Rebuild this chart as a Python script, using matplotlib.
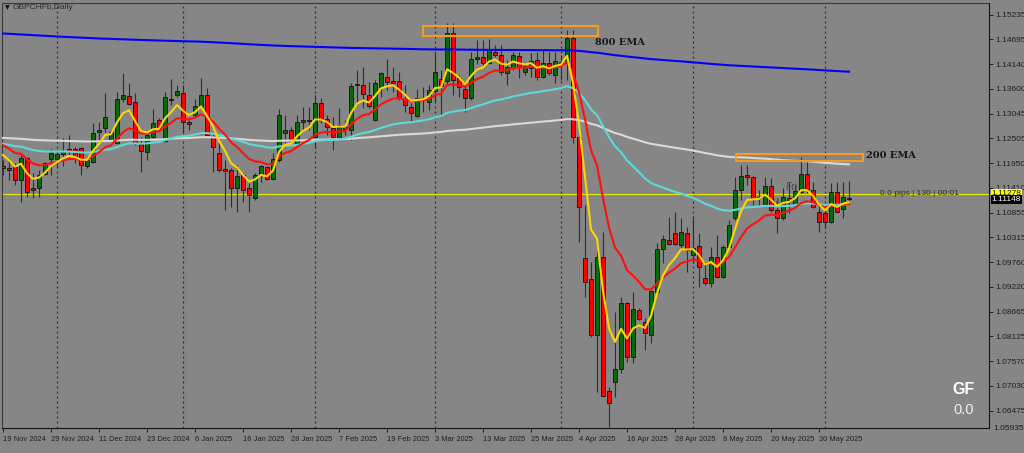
import numpy as np
import pandas as pd
import matplotlib
matplotlib.use("Agg")
import matplotlib.pyplot as plt
from matplotlib.patches import Rectangle
from matplotlib.transforms import blended_transform_factory

plt.rcParams["font.family"] = ["Liberation Sans", "DejaVu Sans"]

# GBPCHF daily candles, 19 Nov 2024 .. 6 Jun 2025
opens = [1.1189, 1.1184, 1.1187, 1.1158, 1.1207, 1.1140, 1.1140, 1.1171, 1.1204, 1.1204,
         1.1215, 1.1226, 1.1226, 1.1229, 1.1189, 1.1198, 1.1264, 1.1273, 1.1246, 1.1240,
         1.1337, 1.1344, 1.1330, 1.1238, 1.1220, 1.1253, 1.1291, 1.1244, 1.1337, 1.1346,
         1.1350, 1.1286, 1.1302, 1.1319, 1.1346, 1.1255, 1.1218, 1.1182, 1.1180, 1.1140,
         1.1169, 1.1140, 1.1118, 1.1171, 1.1187, 1.1160, 1.1202, 1.1262, 1.1268, 1.1240,
         1.1286, 1.1291, 1.1253, 1.1328, 1.1293, 1.1273, 1.1249, 1.1271, 1.1268, 1.1370,
         1.1368, 1.1346, 1.1291, 1.1363, 1.1386, 1.1377, 1.1377, 1.1337, 1.1319, 1.1299,
         1.1337, 1.1330, 1.1355, 1.1381, 1.1377, 1.1483, 1.1383, 1.1359, 1.1339, 1.1425,
         1.1430, 1.1417, 1.1441, 1.1434, 1.1395, 1.1408, 1.1432, 1.1397, 1.1406, 1.1423,
         1.1386, 1.1417, 1.1390, 1.1417, 1.1417, 1.1472, 1.1253, 1.0985, 1.0939, 1.0815,
         1.0988, 1.0691, 1.0711, 1.0740, 1.0886, 1.0766, 1.0870, 1.0844, 1.0815, 1.0910,
         1.1005, 1.1025, 1.1041, 1.1014, 1.1041, 1.0992, 1.1012, 1.0941, 1.0930, 1.0988,
         1.0943, 1.1010, 1.1074, 1.1136, 1.1169, 1.1164, 1.1120, 1.1105, 1.1145, 1.1092,
         1.1074, 1.1118, 1.1103, 1.1131, 1.1171, 1.1136, 1.1087, 1.1085, 1.1065, 1.1131,
         1.1094, 1.1118]
highs = [1.1202, 1.1207, 1.1196, 1.1213, 1.1209, 1.1173, 1.1180, 1.1198, 1.1226, 1.1224,
         1.1251, 1.1257, 1.1231, 1.1231, 1.1209, 1.1284, 1.1286, 1.1350, 1.1268, 1.1353,
         1.1395, 1.1372, 1.1350, 1.1253, 1.1259, 1.1315, 1.1295, 1.1353, 1.1381, 1.1368,
         1.1368, 1.1291, 1.1337, 1.1383, 1.1361, 1.1259, 1.1242, 1.1202, 1.1184, 1.1191,
         1.1173, 1.1151, 1.1173, 1.1191, 1.1189, 1.1218, 1.1315, 1.1302, 1.1275, 1.1302,
         1.1319, 1.1319, 1.1346, 1.1339, 1.1302, 1.1297, 1.1317, 1.1291, 1.1372, 1.1401,
         1.1408, 1.1374, 1.1379, 1.1397, 1.1425, 1.1408, 1.1397, 1.1368, 1.1328, 1.1359,
         1.1364, 1.1368, 1.1439, 1.1401, 1.1505, 1.1505, 1.1390, 1.1372, 1.1441, 1.1468,
         1.1468, 1.1470, 1.1456, 1.1456, 1.1423, 1.1441, 1.1441, 1.1419, 1.1439, 1.1441,
         1.1445, 1.1441, 1.1441, 1.1434, 1.1490, 1.1490, 1.1262, 1.1103, 1.0976, 1.1003,
         1.1043, 1.0700, 1.0866, 1.0899, 1.0888, 1.0910, 1.0875, 1.0853, 1.0915, 1.1019,
         1.1036, 1.1076, 1.1087, 1.1074, 1.1054, 1.1074, 1.1041, 1.0976, 1.1010, 1.1036,
         1.1014, 1.1069, 1.1164, 1.1191, 1.1191, 1.1167, 1.1136, 1.1164, 1.1162, 1.1114,
         1.1140, 1.1153, 1.1147, 1.1209, 1.1202, 1.1153, 1.1103, 1.1103, 1.1151, 1.1153,
         1.1153, 1.1156]
lows = [1.1169, 1.1158, 1.1147, 1.1109, 1.1120, 1.1118, 1.1120, 1.1169, 1.1169, 1.1187,
        1.1189, 1.1209, 1.1196, 1.1169, 1.1184, 1.1196, 1.1240, 1.1264, 1.1244, 1.1238,
        1.1330, 1.1324, 1.1235, 1.1176, 1.1202, 1.1251, 1.1271, 1.1242, 1.1324, 1.1341,
        1.1262, 1.1268, 1.1299, 1.1317, 1.1253, 1.1176, 1.1176, 1.1092, 1.1098, 1.1087,
        1.1109, 1.1087, 1.1114, 1.1153, 1.1158, 1.1158, 1.1198, 1.1231, 1.1240, 1.1235,
        1.1268, 1.1268, 1.1229, 1.1284, 1.1257, 1.1224, 1.1246, 1.1257, 1.1246, 1.1328,
        1.1317, 1.1317, 1.1288, 1.1341, 1.1357, 1.1353, 1.1335, 1.1308, 1.1286, 1.1297,
        1.1308, 1.1313, 1.1330, 1.1297, 1.1368, 1.1346, 1.1341, 1.1308, 1.1335, 1.1414,
        1.1408, 1.1414, 1.1430, 1.1390, 1.1368, 1.1401, 1.1383, 1.1390, 1.1386, 1.1379,
        1.1383, 1.1390, 1.1372, 1.1379, 1.1379, 1.1240, 1.1021, 1.0899, 1.0811, 1.0689,
        1.0678, 1.0612, 1.0678, 1.0731, 1.0755, 1.0753, 1.0848, 1.0782, 1.0797, 1.0908,
        1.0974, 1.1014, 1.1014, 1.1003, 1.0954, 1.0974, 1.0921, 1.0926, 1.0921, 1.0941,
        1.0941, 1.1007, 1.1069, 1.1114, 1.1147, 1.1103, 1.1103, 1.1103, 1.1087, 1.1041,
        1.1069, 1.1085, 1.1098, 1.1129, 1.1129, 1.1096, 1.1043, 1.1052, 1.1063, 1.1085,
        1.1074, 1.1103]
closes = [1.1184, 1.1180, 1.1158, 1.1207, 1.1131, 1.1136, 1.1169, 1.1196, 1.1218, 1.1215,
          1.1222, 1.1222, 1.1204, 1.1191, 1.1202, 1.1262, 1.1268, 1.1297, 1.1264, 1.1337,
          1.1346, 1.1326, 1.1240, 1.1222, 1.1257, 1.1284, 1.1273, 1.1341, 1.1335, 1.1355,
          1.1286, 1.1282, 1.1321, 1.1346, 1.1257, 1.1231, 1.1180, 1.1178, 1.1140, 1.1167,
          1.1136, 1.1125, 1.1169, 1.1189, 1.1160, 1.1204, 1.1302, 1.1268, 1.1244, 1.1286,
          1.1291, 1.1288, 1.1328, 1.1291, 1.1275, 1.1253, 1.1279, 1.1275, 1.1366, 1.1368,
          1.1348, 1.1321, 1.1372, 1.1395, 1.1374, 1.1372, 1.1339, 1.1324, 1.1306, 1.1339,
          1.1339, 1.1357, 1.1397, 1.1366, 1.1483, 1.1379, 1.1364, 1.1339, 1.1425, 1.1430,
          1.1417, 1.1445, 1.1434, 1.1397, 1.1408, 1.1434, 1.1408, 1.1410, 1.1421, 1.1386,
          1.1417, 1.1395, 1.1421, 1.1419, 1.1472, 1.1253, 1.1098, 1.0932, 1.0815, 1.0988,
          1.0680, 1.0665, 1.0740, 1.0886, 1.0766, 1.0873, 1.0850, 1.0819, 1.0912, 1.1005,
          1.1027, 1.1016, 1.1016, 1.1043, 1.1003, 1.1007, 1.0965, 1.0930, 1.0988, 1.0943,
          1.1010, 1.1058, 1.1136, 1.1167, 1.1164, 1.1118, 1.1118, 1.1145, 1.1092, 1.1074,
          1.1120, 1.1114, 1.1133, 1.1171, 1.1136, 1.1098, 1.1065, 1.1065, 1.1131, 1.1087,
          1.1120, 1.11148]

# moving averages: period, value at the first bar, colour
ma_periods = [800, 200, 50, 13, 5]
ma_start = [1.1482, 1.1251, 1.1238, 1.1235, 1.1213]
ma_colors = ["#0000ff", "#d9d9d9", "#5ed8d8", "#ff1010", "#ffd400"]

yticks = [1.15235, 1.14695, 1.14140, 1.13600, 1.13045, 1.12505, 1.11950, 1.11410,
          1.10855, 1.10315, 1.09760, 1.09220, 1.08665, 1.08125, 1.07570, 1.07030, 1.06475]
bottom_label = "1.05935"
bid = 1.11278
last = 1.11148

BG = "#868686"
DARK = "#1e1e1e"
FS = 6

o = np.array(opens); h = np.array(highs); l = np.array(lows); c = np.array(closes)
n = len(c)
x = np.arange(n)

days = pd.bdate_range("2024-11-19", "2025-06-30")
days = days[~days.isin(pd.to_datetime(["2024-12-25", "2025-01-01"]))][:n]


def ema(vals, period, start):
    a = 2.0 / (period + 1)
    out = [start]
    for v in vals[1:]:
        out.append(out[-1] + a * (v - out[-1]))
    return np.array(out)


fig = plt.figure(figsize=(10.24, 4.53), dpi=100, facecolor=BG)
ax = fig.add_axes([2 / 1024, 25 / 453, 987 / 1024, 425 / 453], facecolor=BG)
ax.set_xlim(-0.17, 164.33)
ax.set_ylim(1.06093, 1.15494)

# month separators
newmonth = [i for i in range(1, n) if days[i].month != days[i - 1].month]
for i in newmonth:
    ax.axvline(i, color="#2a2a2a", lw=0.9, ls=(0, (1.5, 2.5)), zorder=1)

ax.axhline(bid, color="#e8e800", lw=0.8, zorder=1.5)

# candles
up = c >= o
ax.vlines(x, l, h, color="#2e2e2e", lw=0.8, zorder=2)
body = np.maximum(np.abs(c - o), 0.00002)
ax.bar(x[up], body[up], bottom=o[up], width=0.62, color="#0a6a0a",
       edgecolor="#111111", lw=0.6, zorder=3)
ax.bar(x[~up], body[~up], bottom=c[~up], width=0.62, color="#ff0000",
       edgecolor="#111111", lw=0.6, zorder=3)

for p, s, col in zip(ma_periods, ma_start, ma_colors):
    ax.plot(x, ema(c, p, s), color=col, lw=1.5, zorder=4)

# zones and labels
ax.add_patch(Rectangle((70, 1.14757), 29.2, 0.00228, fill=False, ec="#f39c1f", lw=1.5, zorder=5))
ax.add_patch(Rectangle((122.1, 1.12005), 21.2, 0.00142, fill=False, ec="#f39c1f", lw=1.5, zorder=5))
ax.text(98.6, 1.14616, "800 EMA", family="DejaVu Serif", weight="bold", fontsize=7,
        color="#151515", va="center", ha="left", zorder=6)
ax.text(143.9, 1.12116, "200 EMA", family="DejaVu Serif", weight="bold", fontsize=7,
        color="#151515", va="center", ha="left", zorder=6)
ax.text(130.3, 1.11424, "Fri", fontsize=7.5, color="#505050", va="center", zorder=2.5)
ax.text(128.3, 1.11070, "Wed", fontsize=7.5, color="#505050", va="center", zorder=2.5)
ax.text(146.2, bid, "0.0 pips | 130 | 00:01", fontsize=FS, color="#2a2a2a",
        va="center", ha="left", zorder=6)
ax.text(160.1, 1.06955, "GF", fontsize=11.5, weight="bold", color="white", ha="center", va="center")
ax.text(160.1, 1.06491, "0.0", fontsize=10.5, color="#f2f2f2", ha="center", va="center")

# axes styling
for side in ["top", "left"]:
    ax.spines[side].set_color("#3a3a3a")
for side in ["bottom", "right"]:
    ax.spines[side].set_color("#111111")
ax.yaxis.tick_right()
ax.set_yticks(yticks)
ax.set_yticklabels([f"{v:.5f}" for v in yticks])
ax.tick_params(axis="y", labelsize=FS, colors=DARK, length=3, pad=1.5, width=0.7)
ticks = list(range(0, n, 8))
ax.set_xticks(ticks)
ax.set_xticklabels([f"{days[i].day} {days[i].strftime('%b %Y')}" for i in ticks])
ax.tick_params(axis="x", labelsize=5.4, colors=DARK, length=3, pad=2.5, width=0.7)
for t in ax.get_xticklabels():
    t.set_ha("left")

tr = blended_transform_factory(ax.transAxes, ax.transData)
ax.text(1.0025, bid, f"{bid:.5f}", transform=tr, fontsize=FS, color="#111111", va="center",
        ha="left", clip_on=False, zorder=7,
        bbox=dict(boxstyle="square,pad=0.1", fc="#ffff00", ec="none"))
ax.text(1.0025, last, f"{last:.5f}", transform=tr, fontsize=FS, color="white", va="center",
        ha="left", clip_on=False, zorder=7,
        bbox=dict(boxstyle="square,pad=0.1", fc="black", ec="none"))
ax.text(1.0045, 0.0, bottom_label, transform=ax.transAxes, fontsize=FS, color=DARK,
        va="center", ha="left", clip_on=False)

fig.text(5 / 1024, 1 - 7.5 / 453, "\u25bc", fontsize=4.5, color="#111111", va="center",
         family="DejaVu Sans")
fig.text(13 / 1024, 1 - 7.5 / 453, "GBPCHFb,Daily", fontsize=FS, color="#2a2a2a", va="center")

fig.savefig("out.png", dpi=100, facecolor=BG)
